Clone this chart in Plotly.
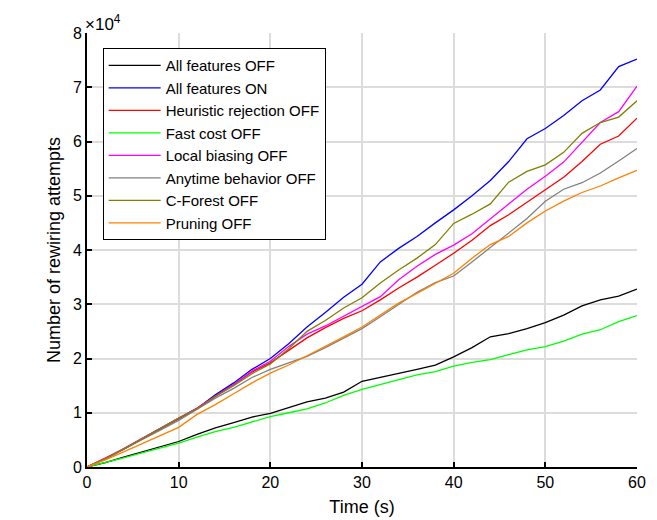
import plotly.graph_objects as go

# time stamps (s)
time_s = list(range(0, 62, 2))

# rewiring attempts, in units of 1e4
all_off = [0, 0.08, 0.18, 0.28, 0.37, 0.47, 0.60, 0.72, 0.82, 0.92, 0.99,
           1.10, 1.20, 1.27, 1.38, 1.58, 1.65, 1.72, 1.80, 1.88, 2.03,
           2.20, 2.40, 2.46, 2.55, 2.66, 2.80, 2.97, 3.08, 3.15, 3.28]
all_on = [0, 0.15, 0.33, 0.52, 0.71, 0.90, 1.08, 1.33, 1.55, 1.80, 2.00,
          2.27, 2.58, 2.85, 3.13, 3.37, 3.78, 4.03, 4.25, 4.50, 4.74,
          5.00, 5.28, 5.63, 6.05, 6.24, 6.48, 6.75, 6.95, 7.38, 7.52]
heur_off = [0, 0.16, 0.33, 0.52, 0.71, 0.89, 1.08, 1.31, 1.52, 1.75, 1.92,
            2.15, 2.38, 2.57, 2.74, 2.88, 3.08, 3.30, 3.50, 3.72, 3.94,
            4.18, 4.45, 4.65, 4.88, 5.10, 5.34, 5.63, 5.95, 6.10, 6.43]
fast_off = [0, 0.08, 0.17, 0.26, 0.35, 0.44, 0.55, 0.65, 0.73, 0.83, 0.93,
            1.00, 1.07, 1.18, 1.32, 1.43, 1.52, 1.62, 1.70, 1.76, 1.86,
            1.93, 1.98, 2.07, 2.16, 2.22, 2.32, 2.45, 2.53, 2.68, 2.79]
local_off = [0, 0.16, 0.34, 0.53, 0.72, 0.90, 1.08, 1.30, 1.52, 1.77, 1.95,
             2.22, 2.45, 2.60, 2.78, 2.95, 3.14, 3.45, 3.70, 3.92, 4.09,
             4.30, 4.58, 4.85, 5.12, 5.36, 5.62, 5.98, 6.35, 6.55, 7.02]
anytime_off = [0, 0.15, 0.33, 0.50, 0.68, 0.86, 1.06, 1.27, 1.45, 1.65, 1.80,
               1.92, 2.04, 2.20, 2.38, 2.55, 2.77, 3.00, 3.22, 3.40, 3.52,
               3.78, 4.05, 4.32, 4.58, 4.90, 5.12, 5.24, 5.42, 5.64, 5.87]
cforest_off = [0, 0.15, 0.33, 0.52, 0.72, 0.90, 1.07, 1.30, 1.50, 1.72, 1.90,
               2.18, 2.50, 2.70, 2.93, 3.12, 3.39, 3.63, 3.85, 4.10, 4.49,
               4.66, 4.85, 5.25, 5.45, 5.57, 5.80, 6.15, 6.35, 6.45, 6.75]
pruning_off = [0, 0.13, 0.28, 0.43, 0.58, 0.73, 0.97, 1.15, 1.35, 1.55, 1.73,
               1.88, 2.05, 2.22, 2.40, 2.58, 2.80, 3.02, 3.20, 3.38, 3.57,
               3.85, 4.10, 4.25, 4.50, 4.72, 4.90, 5.06, 5.18, 5.33, 5.47]

names = ["All features OFF", "All features ON", "Heuristic rejection OFF",
         "Fast cost OFF", "Local biasing OFF", "Anytime behavior OFF",
         "C-Forest OFF", "Pruning OFF"]
series = [all_off, all_on, heur_off, fast_off, local_off, anytime_off,
          cforest_off, pruning_off]
colors = ["#000000", "#0000ff", "#ff0000", "#00ff00", "#ff00ff", "#808080",
          "#808000", "#ff8000"]

y_ticks = [0, 1, 2, 3, 4, 5, 6, 7, 8]

fig = go.Figure()
for name, vals, c in zip(names, series, colors):
    fig.add_trace(go.Scatter(
        x=time_s,
        y=[v * 1e4 for v in vals],
        mode="lines",
        name=name,
        line=dict(color=c, width=1.3),
    ))

font = "Liberation Sans, Arial, Helvetica, sans-serif"

# page body has an 8px margin, so the figure is a bit smaller than the window
fig.update_layout(
    width=649, height=512,
    margin=dict(l=79, r=20, t=25, b=53),
    plot_bgcolor="white",
    paper_bgcolor="white",
    font=dict(family=font, size=16, color="black"),
    showlegend=True,
    legend=dict(
        x=0.0285, y=0.965, xanchor="left", yanchor="top",
        bgcolor="white", bordercolor="black", borderwidth=1,
        font=dict(size=15, color="black"),
        tracegroupgap=0, itemwidth=52,
    ),
)

fig.update_xaxes(
    range=[0, 60], tickvals=[0, 10, 20, 30, 40, 50, 60],
    showgrid=True, gridcolor="#dcdcdc", gridwidth=1.5,
    showline=True, linecolor="black", linewidth=2,
    ticks="inside", ticklen=5, tickcolor="black", tickwidth=1.5,
    zeroline=False, automargin=False,
    title=dict(text="Time (s)", font=dict(size=18), standoff=10),
    tickfont=dict(size=16),
)
fig.update_yaxes(
    range=[0, 80000], tickvals=[v * 1e4 for v in y_ticks],
    ticktext=[str(v) for v in y_ticks],
    showgrid=True, gridcolor="#dcdcdc", gridwidth=1.5,
    showline=True, linecolor="black", linewidth=2,
    ticks="inside", ticklen=5, tickcolor="black", tickwidth=1.5,
    zeroline=False, automargin=False,
    title=dict(text="Number of rewiring attempts", font=dict(size=18), standoff=8),
    tickfont=dict(size=16),
)

fig.add_annotation(
    x=0, y=1, xref="paper", yref="paper", xanchor="left", yanchor="bottom",
    text="×10<sup>4</sup>", showarrow=False, font=dict(size=17),
    xshift=-4, yshift=-3,
)

fig.write_html("out.html")
